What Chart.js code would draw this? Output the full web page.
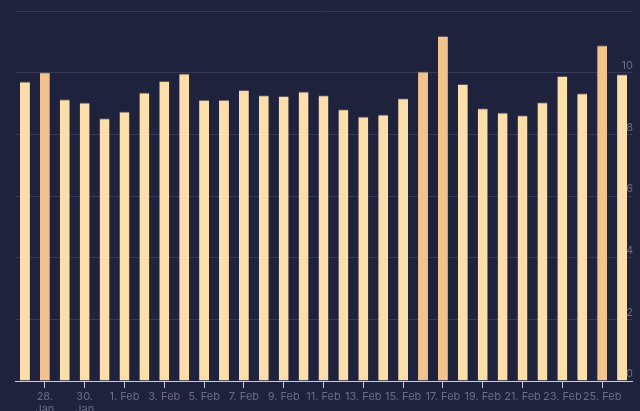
<!DOCTYPE html>
<html>
<head>
<meta charset="utf-8">
<script src="https://cdn.jsdelivr.net/npm/chart.js@4.4.1/dist/chart.umd.min.js"></script>
<style>
    html, body {
        margin: 0;
        padding: 0;
        background: #1f223d;
    }
    #wrap {
        width: 640px;
        height: 411px;
    }
</style>
</head>
<body>
<div id="wrap"><canvas id="dailyChart"></canvas></div>
<script>
// One bar per day, 27 Jan - 26 Feb
const days = [
    '27. Jan', '28. Jan', '29. Jan', '30. Jan', '31. Jan',
    '1. Feb', '2. Feb', '3. Feb', '4. Feb', '5. Feb', '6. Feb', '7. Feb',
    '8. Feb', '9. Feb', '10. Feb', '11. Feb', '12. Feb', '13. Feb', '14. Feb',
    '15. Feb', '16. Feb', '17. Feb', '18. Feb', '19. Feb', '20. Feb', '21. Feb',
    '22. Feb', '23. Feb', '24. Feb', '25. Feb', '26. Feb'
];

const values = [
    9.71, 10.01, 9.14, 9.03, 8.52, 8.74, 9.36, 9.73, 9.97, 9.12, 9.12,
    9.44, 9.27, 9.24, 9.39, 9.27, 8.81, 8.58, 8.64, 9.17, 10.04, 11.19,
    9.63, 8.85, 8.71, 8.62, 9.04, 9.89, 9.33, 10.89, 9.95
];

// labels shown under every second day
const tickLabels = [
    '', ['28.', 'Jan'], '', ['30.', 'Jan'], '', '1. Feb', '', '3. Feb', '', '5. Feb', '',
    '7. Feb', '', '9. Feb', '', '11. Feb', '', '13. Feb', '', '15. Feb', '', '17. Feb',
    '', '19. Feb', '', '21. Feb', '', '23. Feb', '', '25. Feb', ''
];

const yTicks = [0, 2, 4, 6, 8, 10, 12];

const highlight = 10;
const paleColor = '#fbdea9';
const strongColor = '#f2c38e';
const labelColor = '#6b6d84';

function barColors() {
    return values.map(v => v >= highlight ? strongColor : paleColor);
}

function createChart() {
    const ctx = document.getElementById('dailyChart').getContext('2d');
    new Chart(ctx, {
        type: 'bar',
        data: {
            labels: days,
            datasets: [{
                data: values,
                backgroundColor: barColors(),
                borderColor: 'rgba(110, 100, 100, 0.8)',
                borderWidth: { top: 1, left: 0, right: 0, bottom: 0 },
                borderSkipped: 'bottom',
                barPercentage: 0.5,
                categoryPercentage: 1.0
            }]
        },
        options: {
            responsive: true,
            maintainAspectRatio: false,
            animation: false,
            layout: {
                padding: { left: 15, right: 8, top: 11, bottom: 0 }
            },
            plugins: {
                legend: { display: false },
                tooltip: { enabled: false }
            },
            scales: {
                x: {
                    grid: {
                        offset: false,
                        drawOnChartArea: false,
                        tickLength: 7,
                        tickColor: c => (c.index % 2 === 1 ? '#c5cde2' : 'rgba(0,0,0,0)')
                    },
                    border: { color: '#c5cde2', width: 1 },
                    ticks: {
                        autoSkip: false,
                        maxRotation: 0,
                        color: labelColor,
                        padding: 2,
                        font: { family: 'Inter', size: 11 },
                        callback: (v, i) => tickLabels[i]
                    },
                    afterFit: s => { s.height = 30; }
                },
                y: {
                    position: 'right',
                    min: 0,
                    max: 12,
                    afterBuildTicks: s => { s.ticks = yTicks.map(v => ({ value: v })); },
                    grid: {
                        color: '#363a56',
                        drawTicks: false
                    },
                    border: { display: false },
                    ticks: {
                        mirror: true,
                        padding: 1,
                        labelOffset: -7,
                        color: labelColor,
                        font: { family: 'Inter', size: 11 },
                        callback: v => (v >= 12 ? '' : v)
                    },
                    afterFit: s => { s.width = 0; }
                }
            }
        }
    });
}

window.addEventListener('load', createChart);
</script>
</body>
</html>
